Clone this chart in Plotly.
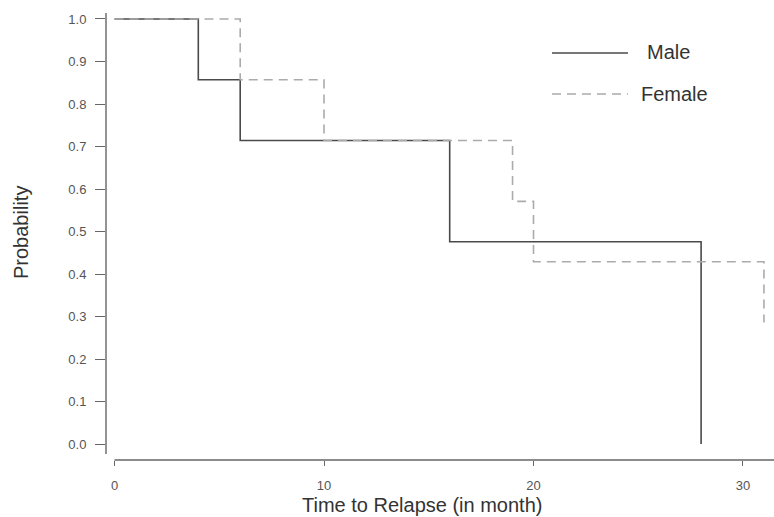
import plotly.graph_objects as go

# Kaplan-Meier style step data
male_time = [0, 4, 6, 16, 28]
male_surv = [1.0, 0.857, 0.714, 0.476, 0.0]
female_time = [0, 6, 10, 19, 20, 31]
female_surv = [1.0, 0.857, 0.714, 0.571, 0.429, 0.286]

x_ticks = [0, 10, 20, 30]
y_ticks = [0.0, 0.1, 0.2, 0.3, 0.4, 0.5, 0.6, 0.7, 0.8, 0.9, 1.0]
y_tick_labels = ["%.1f" % v for v in y_ticks]

series_names = ["Male", "Female"]
x_title = "Time to Relapse (in month)"
y_title = "Probability"

FONT = "Liberation Sans, Arial, Helvetica, sans-serif"
MALE_COLOR = "#4a4a4a"
FEMALE_COLOR = "#ababab"
AXIS_COLOR = "#666666"

W, H = 774, 517
L, R, T, B = 106, 0, 13, 57

fig = go.Figure()
fig.add_trace(go.Scatter(
    x=male_time, y=male_surv, mode="lines", line_shape="hv",
    name=series_names[0], line=dict(color=MALE_COLOR, width=1.6),
    showlegend=False,
))
fig.add_trace(go.Scatter(
    x=female_time, y=female_surv, mode="lines", line_shape="hv",
    name=series_names[1], line=dict(color=FEMALE_COLOR, width=1.6, dash="9px,6px"),
    showlegend=False,
))

x_lo, x_hi = -0.406, 31.48
y_lo, y_hi = -0.0376, 1.0141

# separated axis lines (R-like)
fig.add_shape(type="line", xref="paper", yref="y", x0=0, x1=0, y0=-0.0235, y1=y_hi,
              line=dict(color=AXIS_COLOR, width=1.4))
fig.add_shape(type="line", xref="x", yref="paper", x0=0, x1=x_hi, y0=0, y1=0,
              line=dict(color=AXIS_COLOR, width=1.4))

pw = W - L - R
ph = H - T - B
def px_to_paper_x(px):
    return (px - L) / pw
def px_to_paper_y(py):
    return 1 - (py - T) / ph

# legend drawn as line samples and labels
fig.add_shape(type="line", xref="paper", yref="paper",
              x0=px_to_paper_x(552), x1=px_to_paper_x(628),
              y0=px_to_paper_y(53), y1=px_to_paper_y(53),
              line=dict(color=MALE_COLOR, width=1.6))
fig.add_shape(type="line", xref="paper", yref="paper",
              x0=px_to_paper_x(552), x1=px_to_paper_x(628),
              y0=px_to_paper_y(94), y1=px_to_paper_y(94),
              line=dict(color=FEMALE_COLOR, width=1.6, dash="9px,6px"))
fig.add_annotation(xref="paper", yref="paper", x=px_to_paper_x(645), y=px_to_paper_y(52),
                   text=series_names[0], showarrow=False, xanchor="left", yanchor="middle",
                   font=dict(family=FONT, size=20, color="#333333"))
fig.add_annotation(xref="paper", yref="paper", x=px_to_paper_x(639), y=px_to_paper_y(94),
                   text=series_names[1], showarrow=False, xanchor="left", yanchor="middle",
                   font=dict(family=FONT, size=20, color="#333333"))

# axis titles
fig.add_annotation(xref="paper", yref="paper", x=px_to_paper_x(422), y=px_to_paper_y(505),
                   text=x_title, showarrow=False, xanchor="center", yanchor="middle",
                   font=dict(family=FONT, size=20, color="#333333"))
fig.add_annotation(xref="paper", yref="paper", x=px_to_paper_x(21), y=px_to_paper_y(233),
                   text=y_title, showarrow=False, xanchor="center", yanchor="middle",
                   textangle=-90, font=dict(family=FONT, size=20, color="#333333"))

fig.update_xaxes(
    range=[x_lo, x_hi], tickvals=x_ticks, ticktext=[str(v) for v in x_ticks],
    showgrid=False, zeroline=False, showline=False,
    ticks="outside", ticklen=5, tickwidth=1.3, tickcolor=AXIS_COLOR,
    tickfont=dict(family=FONT, size=13, color="#555555"),
    ticklabelstandoff=8,
)
fig.update_yaxes(
    range=[y_lo, y_hi], tickvals=y_ticks, ticktext=y_tick_labels,
    showgrid=False, zeroline=False, showline=False,
    ticks="outside", ticklen=10, tickwidth=1.3, tickcolor=AXIS_COLOR,
    tickfont=dict(family=FONT, size=13, color="#555555"),
    ticklabelstandoff=6,
)
fig.update_layout(
    width=W, height=H,
    margin=dict(l=L, r=R, t=T, b=B, pad=0),
    paper_bgcolor="white", plot_bgcolor="white",
    showlegend=False,
)
fig.write_html(
    "out.html",
    config={"displayModeBar": False},
    post_script="document.body.style.margin='0';document.body.style.overflow='hidden';",
)
